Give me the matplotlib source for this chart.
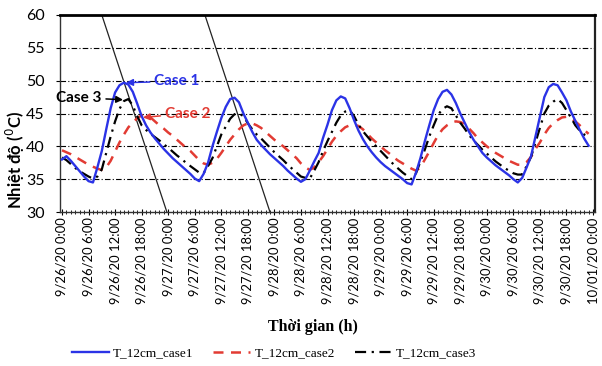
import matplotlib
matplotlib.use("Agg")
import matplotlib.pyplot as plt

# Hourly temperature at 12 cm depth, 9/26 0:00 to 9/30 23:00
hours = list(range(120))

t_case1 = [
    38.0, 38.5, 37.8, 37.0, 36.2, 35.4, 34.7, 34.5, 36.8, 39.3,
    42.6, 45.8, 48.2, 49.3, 49.7, 49.4, 48.3, 46.5, 44.6, 43.2,
    42.1, 41.2, 40.4, 39.6, 38.9, 38.2, 37.6, 37.0, 36.4, 35.8,
    35.1, 34.7, 35.8, 37.5, 40.0, 42.2, 44.3, 46.0, 47.2, 47.4,
    46.7, 45.0, 43.6, 42.2, 41.0, 40.2, 39.5, 38.8, 38.2, 37.6,
    37.0, 36.3, 35.7, 35.1, 34.6, 35.0, 36.3, 37.7, 39.0, 41.3,
    43.3, 45.5, 47.0, 47.6, 47.3, 45.8, 44.0, 42.4, 41.1, 40.0,
    39.1, 38.3, 37.6, 37.0, 36.5, 36.0, 35.5, 35.0, 34.4, 34.2,
    36.0, 38.2, 40.8, 43.2, 45.5, 47.2, 48.3, 48.6, 47.9, 46.6,
    45.0, 43.6, 42.2, 41.0, 40.0, 39.0, 38.3, 37.7, 37.1, 36.6,
    36.1, 35.6, 35.0, 34.5, 35.2, 36.8, 38.5, 41.5, 44.5, 47.5,
    49.0, 49.5, 49.3, 48.2, 47.0, 45.3, 43.9, 42.5, 41.2, 40.1,
]

t_case2 = [
    39.4, 39.1, 38.8, 38.4, 38.0, 37.6, 37.2, 36.9, 36.6, 36.4,
    36.8, 37.8, 39.2, 40.6, 41.8, 42.9, 43.6, 44.3, 44.7, 44.8,
    44.4, 43.8, 43.2, 42.7, 42.1, 41.6, 41.0, 40.4, 39.8, 39.3,
    38.6, 37.9, 37.4, 37.2, 37.5, 38.1, 39.0, 40.0, 41.0, 41.8,
    42.6, 43.2, 43.5, 43.5, 43.2, 42.8, 42.2, 41.6, 41.0, 40.5,
    40.0, 39.4, 38.8, 38.2, 37.4, 36.8, 36.4, 36.8, 37.6, 38.5,
    39.6, 40.7, 41.6, 42.3, 42.9, 43.2, 43.3, 43.1, 42.6, 41.9,
    41.2, 40.6, 40.0, 39.4, 38.9, 38.3, 37.8, 37.4, 37.0, 36.6,
    36.3, 36.8, 38.0, 39.2, 40.5, 41.7, 42.6, 43.2, 43.6, 43.8,
    43.7, 43.4, 42.7, 42.0, 41.2, 40.6, 40.0, 39.5, 39.0, 38.6,
    38.2, 37.8, 37.5, 37.2, 37.2, 37.6, 38.4, 39.6, 40.6, 41.8,
    42.8, 43.5, 44.0, 44.4, 44.5, 44.3, 43.8, 43.2, 42.5, 41.9,
]

t_case3 = [
    38.3, 37.9, 37.3, 36.7, 36.2, 35.8, 35.4, 35.1, 35.4, 36.5,
    39.0, 41.5, 43.8, 45.7, 46.9, 47.2, 46.2, 44.6, 43.2, 42.5,
    41.9, 41.4, 40.9, 40.3, 39.8, 39.2, 38.6, 38.1, 37.5, 37.0,
    36.5, 36.0, 35.9, 37.0, 38.2, 40.0, 41.8, 43.0, 44.2, 44.9,
    45.0, 44.6, 43.5, 42.6, 41.8, 41.2, 40.5, 39.8, 39.1, 38.5,
    37.9, 37.2, 36.6, 36.0, 35.4, 35.2, 35.1, 36.3, 37.6, 39.3,
    40.8, 42.2, 43.6, 44.7, 45.3, 45.5, 44.6, 43.3, 42.3, 41.5,
    40.7, 40.0, 39.3, 38.6, 37.9, 37.2, 36.6, 36.0, 35.5, 35.0,
    35.9, 37.7, 39.5, 41.5, 43.2, 44.8, 45.7, 46.1, 45.8, 44.7,
    43.6, 42.7, 41.7, 40.9, 40.2, 39.5, 38.9, 38.3, 37.7, 37.2,
    36.7, 36.3, 35.9, 35.7, 35.7, 37.0, 38.4, 40.6, 42.8, 45.0,
    46.2, 46.8, 47.2, 46.6, 45.5, 44.4, 43.2, 42.4, 41.8, 41.5,
]

series_names = ["T_12cm_case1", "T_12cm_case2", "T_12cm_case3"]

tick_hours = list(range(0, 121, 6))
tick_labels = [
    "9/26/20 0:00", "9/26/20 6:00", "9/26/20 12:00", "9/26/20 18:00",
    "9/27/20 0:00", "9/27/20 6:00", "9/27/20 12:00", "9/27/20 18:00",
    "9/28/20 0:00", "9/28/20 6:00", "9/28/20 12:00", "9/28/20 18:00",
    "9/29/20 0:00", "9/29/20 6:00", "9/29/20 12:00", "9/29/20 18:00",
    "9/30/20 0:00", "9/30/20 6:00", "9/30/20 12:00", "9/30/20 18:00",
    "10/01/20 0:00",
]
y_ticks = [30, 35, 40, 45, 50, 55, 60]

# Slanted reference lines (hour at top edge, hour at bottom edge)
guide_top_h = [9.0, 32.3]
guide_bottom_h = [23.7, 47.0]

# Callouts: label, text anchor (h, T), arrow tip (h, T)
callout_labels = ["Case 1", "Case 3", "Case 2"]
callout_text_pos = [(20.8, 49.9), (9.0, 47.4), (23.2, 45.0)]
callout_tip_pos = [(14.5, 49.7), (13.8, 47.1), (18.3, 44.4)]

BLUE = "#2B33E6"
RED = "#E23B33"
BLACK = "#000000"
TICK_FONT = "Lato"

fig = plt.figure(figsize=(6.02, 3.66), dpi=100)
ax = fig.add_axes([60 / 602, 1 - 212 / 366, 535 / 602, 197 / 366])

ax.set_xlim(-0.45, 120.45)
ax.set_ylim(30, 60)

for yv in y_ticks[1:-1]:
    ax.axhline(yv, color="black", lw=0.8, ls=(0, (5, 2, 1, 2)), zorder=1)

for ht, hb in zip(guide_top_h, guide_bottom_h):
    ax.plot([ht, hb], [60, 30], color="#222222", lw=0.9, zorder=2)

ax.plot(hours, t_case1, color=BLUE, lw=1.7, label=series_names[0], zorder=5)
ax.plot(hours, t_case2, color=RED, lw=1.8, ls=(0, (4, 3)), label=series_names[1], zorder=4)
ax.plot(hours, t_case3, color=BLACK, lw=1.6, ls=(0, (5, 2.5, 1, 2.5)), label=series_names[2], zorder=4)

ax.set_xticks(tick_hours)
ax.set_xticklabels(tick_labels, rotation=90, fontfamily=TICK_FONT, fontsize=9.4)
ax.set_xticks(range(0, 121), minor=True)
ax.tick_params(axis="x", which="major", length=4, direction="inout", width=0.8, pad=2)
ax.tick_params(axis="x", which="minor", length=3, direction="inout", width=0.6)
ax.set_yticks(y_ticks)
ax.set_yticklabels([str(v) for v in y_ticks], fontfamily=TICK_FONT, fontsize=11.5)
ax.tick_params(axis="y", length=3, width=0.8, pad=8)

for side in ["left", "bottom"]:
    ax.spines[side].set_linewidth(1.0)
    ax.spines[side].set_color("#333333")
ax.spines["top"].set_linewidth(2.0)
ax.spines["top"].set_color("black")
ax.spines["right"].set_linewidth(1.6)
ax.spines["right"].set_color("#222222")

fig.text(15 / 602, 1 - 160 / 366, "Nhiệt độ ($^{0}$C)", rotation=90, ha="center", va="center",
         fontfamily=TICK_FONT, fontweight="bold", fontsize=12)
fig.text(313 / 602, 1 - 327 / 366, "Thời gian (h)", ha="center", va="center",
         fontfamily="Liberation Serif", fontweight="bold", fontsize=11.5)

colors = [BLUE, BLACK, RED]
for lab, tpos, tip, c in zip(callout_labels, callout_text_pos, callout_tip_pos, colors):
    ha = "right" if tip[0] > tpos[0] else "left"
    ax.annotate(lab, xy=tip, xytext=tpos, ha=ha, va="center", color=c,
                fontfamily=TICK_FONT, fontweight="bold", fontsize=11,
                arrowprops=dict(arrowstyle="-|>", color=c, lw=1.1, mutation_scale=10,
                                shrinkA=1, shrinkB=0), zorder=6)

fig.legend(loc="center", bbox_to_anchor=(274 / 602, 1 - 353 / 366), ncol=3, frameon=False,
           prop={"family": "Liberation Serif", "size": 9.5},
           handlelength=2.8, columnspacing=1.5, handletextpad=0.3)

fig.savefig("out.png", dpi=100)
